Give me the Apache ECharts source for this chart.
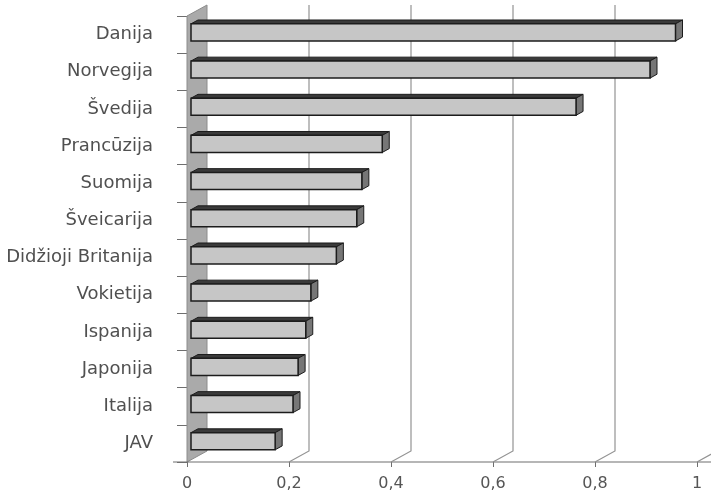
<!DOCTYPE html>
<html>
<head>
<meta charset="utf-8">
<script src="https://cdn.jsdelivr.net/npm/echarts@6/dist/echarts.min.js"></script>
<style>
  html, body { margin: 0; padding: 0; background: #ffffff; }
  #chart { width: 711px; height: 494px; }
</style>
</head>
<body>
<div id="chart"></div>
<script>
// Countries, top to bottom
const countries = ['Danija', 'Norvegija', 'Švedija', 'Prancūzija', 'Suomija', 'Šveicarija',
  'Didžioji Britanija', 'Vokietija', 'Ispanija', 'Japonija', 'Italija', 'JAV'];
// Index value for each country
const values = [0.95, 0.90, 0.755, 0.375, 0.335, 0.325, 0.285, 0.235, 0.225, 0.21, 0.2, 0.165];
// Value-axis ticks
const xTicks = [0, 0.2, 0.4, 0.6, 0.8, 1];

// Pseudo-3D box: full depth offset of the back wall, in px
const DEPTH_X = 20, DEPTH_Y = -11;
// Bars sit between these depth fractions
const BAR_FRONT = 0.2, BAR_BACK = 0.55;
const FONT = '"DejaVu Sans", "Liberation Sans", sans-serif';

const chart = echarts.init(document.getElementById('chart'), null, { renderer: 'canvas' });

// Side wall, slanted floor ticks and back-wall gridlines
function renderWalls(params, api) {
  const v = api.value(0);
  const cs = params.coordSys;
  const x = api.coord([v, 0])[0];
  const top = cs.y, bottom = cs.y + cs.height;
  const children = [];
  if (v === 0) {
    children.push({
      type: 'polygon',
      shape: { points: [[x, top], [x + DEPTH_X, top + DEPTH_Y], [x + DEPTH_X, bottom + DEPTH_Y], [x, bottom]] },
      style: { fill: '#aaaaaa', stroke: '#8c8c8c', lineWidth: 1 }
    });
    children.push({
      type: 'line',
      shape: { x1: x - 14, y1: bottom, x2: api.getWidth(), y2: bottom },
      style: { stroke: '#6e6e6e', lineWidth: 1.2 }
    });
  } else {
    children.push({
      type: 'polyline',
      shape: { points: [[x, bottom], [x + DEPTH_X, bottom + DEPTH_Y], [x + DEPTH_X, top + DEPTH_Y]] },
      style: { stroke: '#939393', lineWidth: 1.2, fill: null }
    });
  }
  return { type: 'group', children: children };
}

// One box-shaped bar: top face, end face and front face
function renderBar(params, api) {
  const v = api.value(0), i = api.value(1);
  const p0 = api.coord([0, i]);
  const p1 = api.coord([v, i]);
  const band = api.size([0, 1])[1];
  const h = band * 0.46;
  const fx = DEPTH_X * BAR_FRONT, fy = DEPTH_Y * BAR_FRONT;
  const bx = DEPTH_X * BAR_BACK, by = DEPTH_Y * BAR_BACK;
  const x0 = p0[0], x1 = p1[0];
  const top = p0[1] - h / 2, bot = p0[1] + h / 2;
  const edge = '#1c1c1c';
  return {
    type: 'group',
    children: [
      {
        type: 'polygon',
        shape: { points: [[x0 + fx, top + fy], [x1 + fx, top + fy], [x1 + bx, top + by], [x0 + bx, top + by]] },
        style: { fill: '#3a3a3a', stroke: edge, lineWidth: 1 }
      },
      {
        type: 'polygon',
        shape: { points: [[x1 + fx, top + fy], [x1 + bx, top + by], [x1 + bx, bot + by], [x1 + fx, bot + fy]] },
        style: { fill: '#767676', stroke: edge, lineWidth: 1 }
      },
      {
        type: 'rect',
        shape: { x: x0 + fx, y: top + fy, width: x1 - x0, height: h },
        style: { fill: '#c6c6c6', stroke: edge, lineWidth: 1.5 }
      }
    ]
  };
}

chart.setOption({
  animation: false,
  backgroundColor: '#ffffff',
  grid: { left: 187, right: 14, top: 16, bottom: 32, containLabel: false },
  xAxis: {
    type: 'value',
    min: 0, max: 1, interval: 0.2,
    axisLine: { show: false },
    axisTick: { show: true, length: 5, lineStyle: { color: '#6e6e6e', width: 1 } },
    splitLine: { show: false },
    axisLabel: {
      margin: 14,
      color: '#555555',
      fontSize: 16,
      fontFamily: FONT,
      formatter: function (v) { return String(v).replace('.', ','); }
    }
  },
  yAxis: {
    type: 'category',
    data: countries,
    inverse: true,
    axisLine: { show: false },
    axisTick: { show: true, length: 10, lineStyle: { color: '#6e6e6e', width: 1 } },
    splitLine: { show: false },
    axisLabel: { margin: 34, color: '#505050', fontSize: 18, fontFamily: FONT }
  },
  series: [
    {
      type: 'custom',
      renderItem: renderWalls,
      data: xTicks.map(function (v) { return [v, 0]; }),
      encode: { x: 0, y: 1 },
      z: 1,
      silent: true
    },
    {
      type: 'custom',
      renderItem: renderBar,
      data: values.map(function (v, i) { return [v, i]; }),
      encode: { x: 0, y: 1 },
      z: 2
    }
  ]
});
</script>
</body>
</html>
